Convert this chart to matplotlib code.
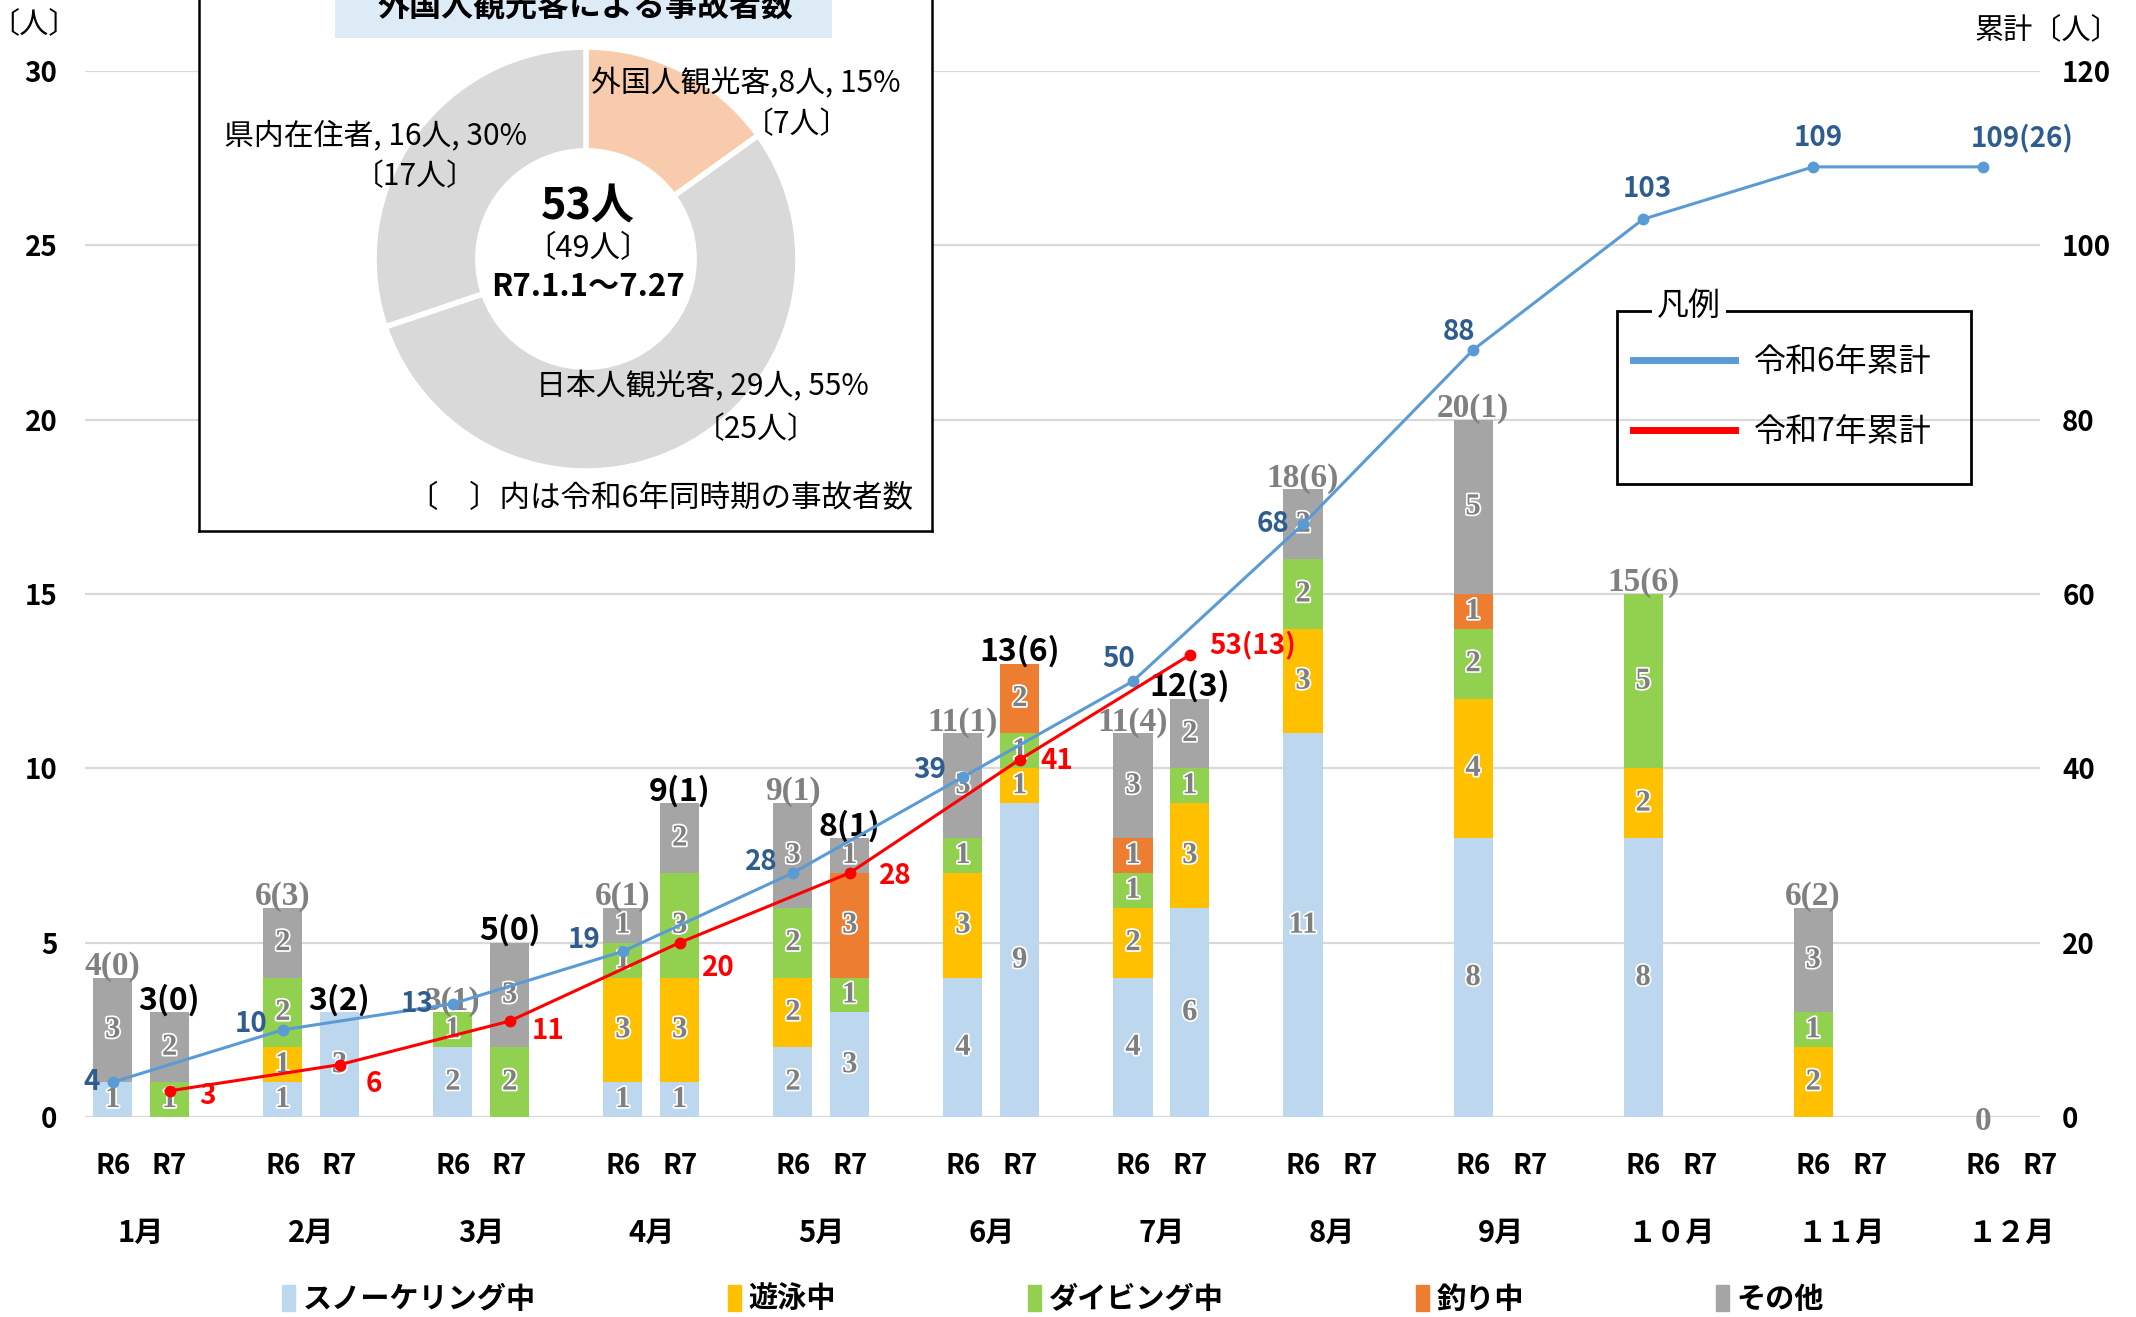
import matplotlib
matplotlib.use('Agg')
import matplotlib.pyplot as plt
import matplotlib.patheffects as pe
from matplotlib.patches import Patch, Rectangle
from matplotlib.lines import Line2D
import numpy as np

plt.rcParams['font.family'] = ['Noto Sans CJK JP', 'DejaVu Sans']

# ---- データ ----
months = ['1月', '2月', '3月', '4月', '5月', '6月', '7月', '8月', '9月', '１０月', '１１月', '１２月']
categories = ['スノーケリング中', '遊泳中', 'ダイビング中', '釣り中', 'その他']
cat_colors = ['#BDD7EE', '#FFC000', '#92D050', '#ED7D31', '#A5A5A5']

# 令和6年 月別
r6_snorkel = [1, 1, 2, 1, 2, 4, 4, 11, 8, 8, 0, 0]
r6_swim = [0, 1, 0, 3, 2, 3, 2, 3, 4, 2, 2, 0]
r6_diving = [0, 2, 1, 1, 2, 1, 1, 2, 2, 5, 1, 0]
r6_fishing = [0, 0, 0, 0, 0, 0, 1, 0, 1, 0, 0, 0]
r6_other = [3, 2, 0, 1, 3, 3, 3, 2, 5, 0, 3, 0]
r6_foreign = [0, 3, 1, 1, 1, 1, 4, 6, 1, 6, 2, 0]   # ( ) 内 外国人観光客

# 令和7年 月別 (7月まで)
r7_snorkel = [0, 3, 0, 1, 3, 9, 6]
r7_swim = [0, 0, 0, 3, 0, 1, 3]
r7_diving = [1, 0, 2, 3, 1, 1, 1]
r7_fishing = [0, 0, 0, 0, 3, 2, 0]
r7_other = [2, 0, 3, 2, 1, 0, 2]
r7_foreign = [0, 2, 0, 1, 1, 6, 3]

# 累計
r6_cum = [4, 10, 13, 19, 28, 39, 50, 68, 88, 103, 109, 109]
r7_cum = [3, 6, 11, 20, 28, 41, 53]

# 円グラフ (R7.1.1～7.27)
pie_names = ['外国人観光客', '日本人観光客', '県内在住者']
pie_values = [8, 29, 16]
pie_prev = [7, 25, 17]
pie_colors = ['#F8CBAD', '#D9D9D9', '#D9D9D9']

W, H = 2136, 1317
fig = plt.figure(figsize=(W / 100, H / 100), dpi=100)

ax_left, ax_right, ax_bottom, ax_top = 85, 2040, 1117, 71
ax = fig.add_axes([ax_left / W, 1 - ax_bottom / H, (ax_right - ax_left) / W, (ax_bottom - ax_top) / H])
ax2 = ax.twinx()

x = np.arange(len(months))
off = 0.167
bw = 0.23
x6 = x - off
x7 = np.arange(len(r7_snorkel)) + off

r6_stack = [r6_snorkel, r6_swim, r6_diving, r6_fishing, r6_other]
r7_stack = [r7_snorkel, r7_swim, r7_diving, r7_fishing, r7_other]

seg_fx = [pe.withStroke(linewidth=2.5, foreground='white')]


def draw_stack(xs, stack):
    bottom = np.zeros(len(xs))
    for vals, col in zip(stack, cat_colors):
        vals = np.array(vals, dtype=float)
        ax.bar(xs, vals, bw, bottom=bottom, color=col, zorder=2)
        for xi, b, v in zip(xs, bottom, vals):
            if v > 0:
                ax.text(xi, b + v / 2, f'{int(v)}', ha='center', va='center',
                        fontsize=22, color='#7F7F7F', family='Liberation Serif',
                        fontweight='bold', path_effects=seg_fx, zorder=3)
        bottom += vals
    return bottom


tot6 = draw_stack(x6, r6_stack)
tot7 = draw_stack(x7, r7_stack)

for xi, t, f in zip(x6, tot6, r6_foreign):
    lab = f'{int(t)}({f})' if t > 0 else '0'
    ax.annotate(lab, (xi, t), xytext=(0, -3), textcoords='offset points',
                ha='center', va='bottom' if t > 0 else 'center', fontsize=24,
                color='#808080', family='Liberation Serif', fontweight='bold', zorder=3)
for xi, t, f in zip(x7, tot7, r7_foreign):
    ax.annotate(f'{int(t)}({f})', (xi, t), xytext=(0, -3), textcoords='offset points',
                ha='center', va='bottom', fontsize=23, color='black',
                fontweight='bold', zorder=3)

ax.set_xlim(-0.33, 11.13)
ax.set_ylim(0, 30)
ax.set_yticks(range(0, 31, 5))
ax.grid(axis='y', color='#D9D9D9', linewidth=1.6, zorder=0)
ax.set_axisbelow(True)
for s in ax.spines.values():
    s.set_visible(False)
ax.tick_params(axis='y', length=0, pad=20, labelsize=20)
for t in ax.get_yticklabels():
    t.set_fontweight('bold')

xt = np.concatenate([x - off, x + off])
xl = ['R6'] * len(x) + ['R7'] * len(x)
ax.set_xticks(xt)
ax.set_xticklabels(xl, fontsize=20, fontweight='bold')
ax.tick_params(axis='x', length=0, pad=25)
for xi, m in zip(x, months):
    ax.text(xi, -0.111, m, transform=ax.get_xaxis_transform(), ha='center', va='center',
            fontsize=21, fontweight='bold')

# 累計線
ax2.set_ylim(0, 120)
ax2.set_yticks(range(0, 121, 20))
for s in ax2.spines.values():
    s.set_visible(False)
ax2.tick_params(axis='y', length=0, pad=16, labelsize=20)
for t in ax2.get_yticklabels():
    t.set_fontweight('bold')

ax2.plot(x6, r6_cum, color='#5B9BD5', lw=2.2, marker='o', ms=7.5, zorder=4)
ax2.plot(x7, r7_cum, color='#FF0000', lw=2.2, marker='o', ms=7.5, zorder=5)

r6_offsets = [(-15, 0), (-23, 4), (-26, 0), (-28, 8), (-23, 8), (-24, 5),
              (-10, 16), (-22, 0), (-10, 13), (3, 22), (4, 21), (28, 21)]
r7_offsets = [(27, -4), (25, -14), (28, -7), (28, -18), (33, -2), (27, -1), (45, 7)]

r6_labels = [str(v) for v in r6_cum]
r6_labels[-1] = f'{r6_cum[-1]}({sum(r6_foreign)})'
r7_labels = [str(v) for v in r7_cum]
r7_labels[-1] = f'{r7_cum[-1]}({sum(r7_foreign)})'

for xi, v, lab, o in zip(x6, r6_cum, r6_labels, r6_offsets):
    ax2.annotate(lab, (xi, v), xytext=o, textcoords='offset points', ha='center', va='center',
                 fontsize=20, fontweight='bold', color='#2F5C8F', zorder=6)
for xi, v, lab, o in zip(x7, r7_cum, r7_labels, r7_offsets):
    ax2.annotate(lab, (xi, v), xytext=o, textcoords='offset points', ha='center', va='center',
                 fontsize=20, fontweight='bold', color='#FF0000', zorder=6)

fig.text(34 / W, 1 - 24 / H, '〔人〕', ha='center', va='center', fontsize=21)
fig.text(2120 / W, 1 - 30 / H, '累計〔人〕', ha='right', va='center', fontsize=21)

# 凡例 (累計)
fig.add_artist(Rectangle((1617 / W, 1 - 484 / H), (1971 - 1617) / W, (484 - 311) / H,
                         transform=fig.transFigure, fill=False, edgecolor='black',
                         linewidth=2, zorder=8))
fig.legend([Line2D([], [], color='#5B9BD5', lw=5), Line2D([], [], color='#FF0000', lw=5)],
           ['令和6年累計', '令和7年累計'], loc='upper left',
           bbox_to_anchor=(1633 / W, 1 - 346 / H), borderaxespad=0, borderpad=0,
           frameon=False, fontsize=23, handlelength=3.2, handletextpad=0.6,
           labelspacing=1.2)
fig.text(1689 / W, 1 - 306 / H, '凡例', ha='center', va='center', fontsize=23, zorder=10,
         bbox=dict(facecolor='white', edgecolor='none', pad=4))

# 凡例 (種別)
fig.legend([Patch(color=c) for c in cat_colors], categories, loc='center',
           bbox_to_anchor=(0.493, 0.014), ncol=5, frameon=False,
           prop={'size': 21, 'weight': 'bold'}, handlelength=0.45, handleheight=1.0,
           handletextpad=0.25, columnspacing=6.6)

# ---- 円グラフ (インセット) ----
bx0, bx1, by_bot, by_top = 199, 932, 531, -20
axp = fig.add_axes([bx0 / W, 1 - by_bot / H, (bx1 - bx0) / W, (by_bot - by_top) / H])
cx, cy, r_out = 586, H - 259, 212
axp.pie(pie_values, colors=pie_colors, startangle=90, counterclock=False,
        radius=r_out, center=(cx, cy),
        wedgeprops=dict(width=r_out * 0.49, edgecolor='white', linewidth=4))
axp.set_xlim(bx0, bx1)
axp.set_ylim(H - by_bot, H - by_top)
axp.set_aspect('auto')
axp.set_frame_on(True)
axp.set_facecolor('white')
for s in axp.spines.values():
    s.set_color('black')
    s.set_linewidth(1.8)
axp.set_xticks([])
axp.set_yticks([])

axp.add_patch(Rectangle((335, H - 38), 832 - 335, 60, facecolor='#DDEBF7', edgecolor='none'))
axp.text(586, H - 7, '外国人観光客による事故者数', ha='center', va='center', fontsize=23,
         fontweight='bold')

total = sum(pie_values)
pct = [round(v / total * 100) for v in pie_values]
fs = 21.5
axp.text(746, H - 84, f'{pie_names[0]},{pie_values[0]}人, {pct[0]}%', ha='center', va='center', fontsize=fs)
axp.text(797, H - 125, f'〔{pie_prev[0]}人〕', ha='center', va='center', fontsize=fs)
axp.text(702, H - 387, f'{pie_names[1]}, {pie_values[1]}人, {pct[1]}%', ha='center', va='center', fontsize=fs)
axp.text(756, H - 430, f'〔{pie_prev[1]}人〕', ha='center', va='center', fontsize=fs)
axp.text(375, H - 136, f'{pie_names[2]}, {pie_values[2]}人, {pct[2]}%', ha='center', va='center', fontsize=fs)
axp.text(415, H - 177, f'〔{pie_prev[2]}人〕', ha='center', va='center', fontsize=fs)
axp.text(588, H - 207, f'{total}人', ha='center', va='center', fontsize=31, fontweight='bold')
axp.text(588, H - 249, f'〔{sum(pie_prev)}人〕', ha='center', va='center', fontsize=22)
axp.text(588, H - 287, 'R7.1.1～7.27', ha='center', va='center', fontsize=22.5, fontweight='bold')
axp.text(661, H - 499, '〔　〕内は令和6年同時期の事故者数', ha='center', va='center', fontsize=22)

fig.savefig('out.png', dpi=100)
